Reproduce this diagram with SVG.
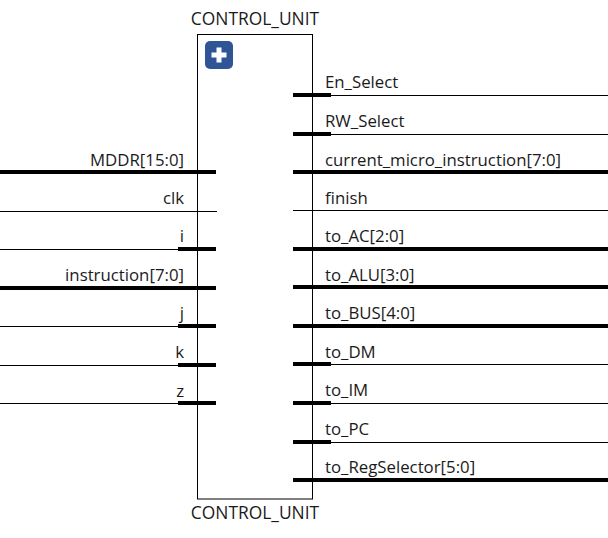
<svg xmlns="http://www.w3.org/2000/svg" width="608" height="538" viewBox="0 0 608 538">
<style>
text{font-family:"Open Sans","Noto Sans","Liberation Sans",sans-serif;font-size:16.800px;fill:#1a1a1a}
.e{text-anchor:end}
.m{text-anchor:middle;font-size:17.400px}
.t{stroke:#000;stroke-width:1;fill:none}
.b{stroke:#000;stroke-width:4;fill:none}
</style>
<rect width="608" height="538" fill="#fff"/>
<g id="control_unit">
<rect x="197.500" y="34.500" width="115" height="464.500" fill="#fff" stroke="#000" stroke-width="1"/>
<text class="m" x="255" y="25">CONTROL_UNIT</text>
<text class="m" x="255" y="519">CONTROL_UNIT</text>
<g id="expand_icon">
<rect x="205" y="41" width="28" height="28" rx="5" fill="#2f5597"/>
<path d="M219 47.500V62.500M211.500 55H226.500" stroke="#fff" stroke-width="5" fill="none"/>
</g>
</g>
<g id="connectors">
<path class="b" d="M0 172H216M0 288H216M178 249H216M178 326H216M178 365H216M178 403H216"/>
<path class="t" d="M0 211.500H217M0 249.500H178M0 326.500H178M0 365.500H178M0 403.500H178"/>
<path class="b" d="M293 95H331M293 134H331M293 172H608M293 249H608M293 287H608M293 326H608M293 364H331M293 403H331M293 442H331M293 480H608"/>
<path class="t" d="M331 95.500H608M331 134.500H608M293 210.500H608M331 364.500H608M331 403.500H608M331 442.500H608"/>
</g>
<g id="port_labels">
<text class="e" x="184" y="166">MDDR[15:0]</text>
<text class="e" x="184" y="204">clk</text>
<text class="e" x="184" y="242">i</text>
<text class="e" x="184" y="281">instruction[7:0]</text>
<text class="e" x="184" y="319">j</text>
<text class="e" x="184" y="358">k</text>
<text class="e" x="184" y="397">z</text>
<text x="325" y="88">En_Select</text>
<text x="325" y="127">RW_Select</text>
<text x="325" y="166">current_micro_instruction[7:0]</text>
<text x="325" y="204">finish</text>
<text x="325" y="242">to_AC[2:0]</text>
<text x="325" y="281">to_ALU[3:0]</text>
<text x="325" y="319">to_BUS[4:0]</text>
<text x="325" y="358">to_DM</text>
<text x="325" y="396">to_IM</text>
<text x="325" y="435">to_PC</text>
<text x="325" y="473">to_RegSelector[5:0]</text>
</g>
</svg>
